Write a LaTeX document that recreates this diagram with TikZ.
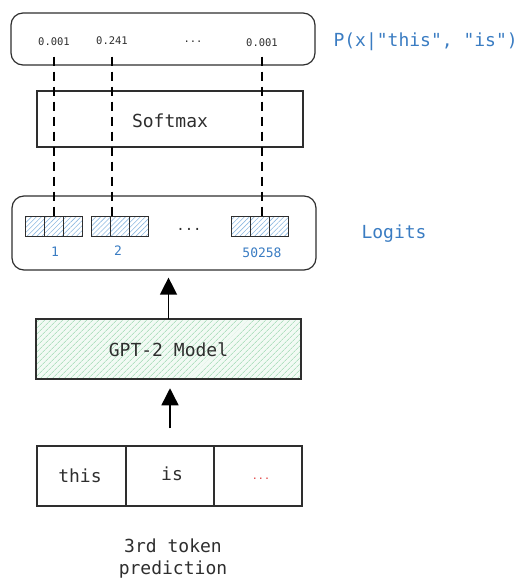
\documentclass[tikz,border=0pt]{standalone}
\usepackage{fontspec}
\setmonofont{DejaVu Sans Mono}
\usetikzlibrary{arrows.meta,patterns.meta}
\definecolor{lblue}{HTML}{3A7CC2}
\definecolor{linec}{HTML}{2E2E2E}
\definecolor{hblue}{HTML}{8DB8E0}
\definecolor{hgreen}{HTML}{8FD3A6}
\definecolor{dotred}{HTML}{E03A3A}
\begin{document}
\begin{tikzpicture}[x=1pt,y=-1pt,font=\ttfamily,
  big/.style={font=\ttfamily\fontsize{18}{22}\selectfont, text=linec},
  rbox/.style={draw=linec, line width=1.2pt, rounded corners=12pt, inner sep=0pt},
  sbox/.style={draw=linec, line width=1.2pt, inner sep=0pt},
  val/.style={font=\ttfamily\fontsize{10.5}{12}\selectfont, text=linec},
  cell/.style={draw=linec, line width=0.9pt, minimum width=19pt, minimum height=20pt, inner sep=0pt,
    pattern={Lines[angle=45,distance=3.5pt,line width=0.6pt]}, pattern color=hblue},
  idx/.style={font=\ttfamily\fontsize{13}{15}\selectfont, text=lblue},
  side/.style={font=\ttfamily\fontsize{18}{22}\selectfont, text=lblue, anchor=west},
  dashline/.style={draw=black, line width=1.3pt, dash pattern=on 9pt off 6pt},
  uparrow/.style={draw=black, line width=1.4pt, -{Triangle[length=17pt,width=17pt]}}
]
\useasboundingbox (0,0) rectangle (528,580);

% top probabilities box
\node[rbox, minimum width=304pt, minimum height=52pt] (probs) at (163,39) {};
\node[val] (v1) at (54,42) {0.001};
\node[val] (v2) at (112,41) {0.241};
\node[val] (vd) at (193,42) {...};
\node[val] (v3) at (262,43) {0.001};
\node[side] (plab) at (330,42) {P(x|"this", "is")};

% softmax
\node[sbox, minimum width=266pt, minimum height=56pt] (soft) at (170,119) {};
\node[big] (softtxt) at (170,121) {Softmax};

% logits box
\node[rbox, minimum width=304pt, minimum height=74pt] (logits) at (164,233) {};
\node[cell] (c11) at (34.5,226) {};
\node[cell] (c12) at (53.5,226) {};
\node[cell] (c13) at (72.5,226) {};
\node[cell] (c21) at (100.5,226) {};
\node[cell] (c22) at (119.5,226) {};
\node[cell] (c23) at (138.5,226) {};
\node[cell] (c31) at (240.5,226) {};
\node[cell] (c32) at (259.5,226) {};
\node[cell] (c33) at (278.5,226) {};
\node[val, font=\ttfamily\fontsize{14}{15}\selectfont] (ld) at (189,229) {...};
\node[idx] (i1) at (55,252) {1};
\node[idx] (i2) at (118,251) {2};
\node[idx] (i3) at (262,253) {50258};
\node[side] (llab) at (358,234) {Logits};

% dashed connectors
\draw[dashline] ([yshift=-7pt]v1.south) -- (v1.south |- c12.north);
\draw[dashline] ([yshift=-8pt]v2.south) -- (v2.south |- c22.north);
\draw[dashline] ([yshift=-6pt]v3.south) -- (v3.south |- c32.north);

% GPT-2 model
\node[sbox, minimum width=265pt, minimum height=60pt,
  preaction={fill=hgreen!12},
  pattern={Lines[angle=45,distance=4pt,line width=0.5pt]}, pattern color=hgreen] (gpt) at (168.5,349) {};
\node[big] (gpttxt) at (168.5,350) {GPT-2 Model};

\draw[uparrow, shorten >=7pt] (gpt.north) -- (gpt.north |- logits.south);

% tokens
\node[sbox, minimum width=89pt, minimum height=60pt] (t1) at (81.5,476) {};
\node[sbox, minimum width=88pt, minimum height=60pt] (t2) at (170,476) {};
\node[sbox, minimum width=88pt, minimum height=60pt] (t3) at (258,476) {};
\node[big] (t1txt) at (80,476) {this};
\node[big] (t2txt) at (172,474) {is};
\node[font=\ttfamily\fontsize{10}{12}\selectfont, text=dotred] (t3txt) at (261,479) {...};

\draw[uparrow, shorten <=17pt, shorten >=9pt] (t2.north) -- (t2.north |- gpt.south);

\node[big, align=center, font=\ttfamily\fontsize{18}{22}\selectfont] (cap) at (173,559) {3rd token\\prediction};
\end{tikzpicture}
\end{document}
